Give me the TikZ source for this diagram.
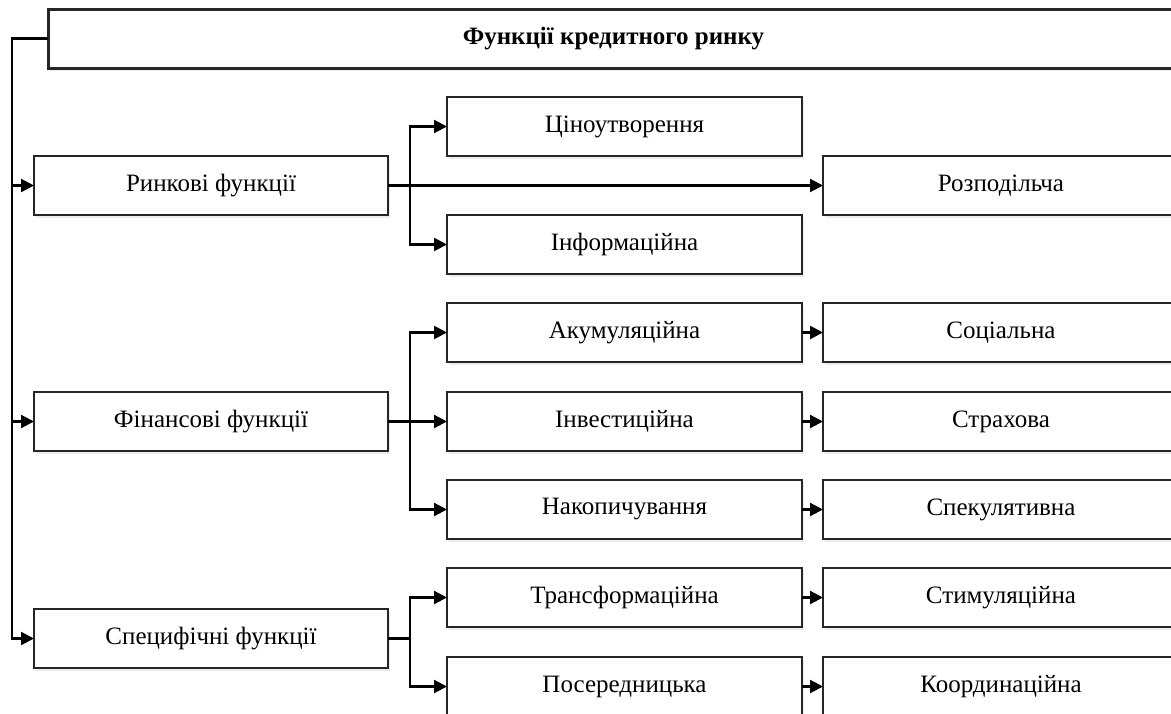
\documentclass[tikz,border=0pt]{standalone}
\usepackage{fontspec}
\setmainfont{Liberation Serif}
\usetikzlibrary{arrows.meta,shadows}
\begin{document}
\begin{tikzpicture}[x=1pt,y=-1pt,
  box/.style={draw=black!85,line width=2pt,fill=white,minimum height=59pt,inner sep=0pt,outer sep=0pt,
    font=\fontsize{25}{28}\selectfont,
    drop shadow={shadow xshift=1.5pt,shadow yshift=-3pt,fill=blue!25!gray!35,opacity=0.35}},
  lbox/.style={box,minimum width=354pt},
  mbox/.style={box,minimum width=355pt},
  rbox/.style={box,minimum width=356pt},
  conn/.style={line width=2.2pt,black},
  arr/.style={conn,-{Triangle[length=13pt,width=13pt]}}]
\path[use as bounding box] (0,0) rectangle (1171,713);
\clip (0,0) rectangle (1171,713);
% title
\node[box,line width=3pt,minimum width=1131pt,font=\fontsize{25}{28}\selectfont\bfseries] (title) at (613.5,38.5) {Функції кредитного ринку};
% level 1
\node[lbox] (rynk) at (211,185.5) {Ринкові функції};
\node[lbox] (fin)  at (211,421.5) {Фінансові функції};
\node[lbox] (spec) at (211,638.5) {Специфічні функції};
% column 2
\node[mbox] (tsin)  at (624.5,126.5) {Ціноутворення};
\node[mbox] (inf)   at (624.5,244.5) {Інформаційна};
\node[mbox] (akum)  at (624.5,332.5) {Акумуляційна};
\node[mbox] (inv)   at (624.5,421.5) {Інвестиційна};
\node[mbox] (nak)   at (624.5,509.5) {Накопичування};
\node[mbox] (trans) at (624.5,597.5) {Трансформаційна};
\node[mbox] (pos)   at (624.5,686.5) {Посередницька};
% column 3
\node[rbox] (rozp)  at (1001,185.5) {Розподільча};
\node[rbox] (soc)   at (1001,332.5) {Соціальна};
\node[rbox] (strakh) at (1001,421.5) {Страхова};
\node[rbox] (spek)  at (1001,509.5) {Спекулятивна};
\node[rbox] (stym)  at (1001,597.5) {Стимуляційна};
\node[rbox] (koord) at (1001,686.5) {Координаційна};
% trunk
\coordinate (t) at (12,38.5);
\draw[arr] (title.west) -- (t) |- (spec.west);
\draw[arr] (t |- rynk.west) -- (rynk.west);
\draw[arr] (t |- fin.west) -- (fin.west);
% branches
\coordinate (b1) at (410,185.5);
\coordinate (b2) at (410,421.5);
\coordinate (b3) at (410,638.5);
\draw[arr] (rynk.east) -- (rozp.west);
\draw[arr] (b1) |- (tsin.west);
\draw[arr] (b1) |- (inf.west);
\draw[arr] (fin.east) -- (inv.west);
\draw[arr] (b2) |- (akum.west);
\draw[arr] (b2) |- (nak.west);
\draw[conn] (spec.east) -- (b3);
\draw[arr] (b3) |- (trans.west);
\draw[arr] (b3) |- (pos.west);
% column 2 to column 3
\draw[arr] (akum.east) -- (soc.west);
\draw[arr] (inv.east) -- (strakh.west);
\draw[arr] (nak.east) -- (spek.west);
\draw[arr] (trans.east) -- (stym.west);
\draw[arr] (pos.east) -- (koord.west);
\end{tikzpicture}
\end{document}
